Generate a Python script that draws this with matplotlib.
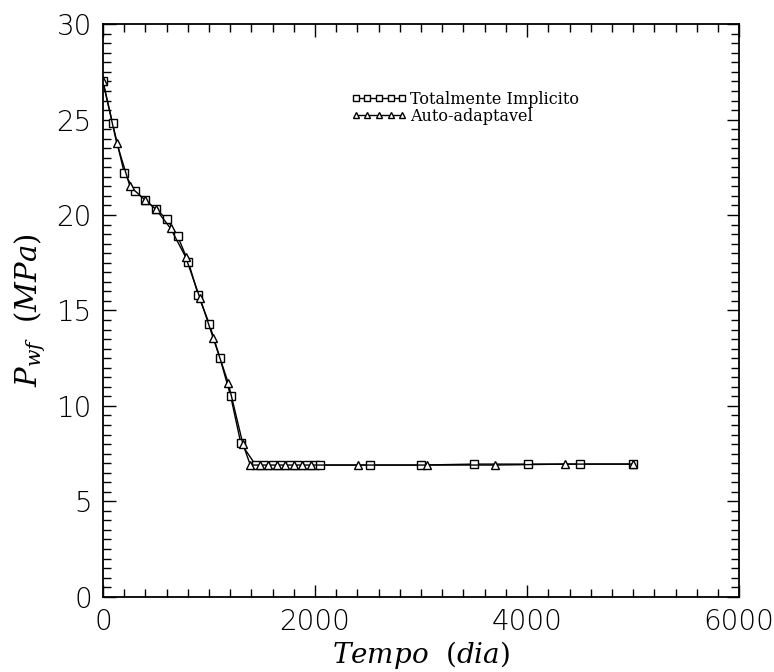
import numpy as np
import matplotlib
matplotlib.use("Agg")
import matplotlib.pyplot as plt
from matplotlib.ticker import MultipleLocator

# pressao no poco - metodo totalmente implicito (quadrados)
t_impl = [0, 91, 201, 302, 396, 500, 601, 704, 805, 899, 1003, 1104, 1205, 1300,
          1440, 1520, 1600, 1680, 1760, 1840, 1920, 2000, 2050,
          2519, 3000, 3500, 4012, 4500, 5000]
p_impl = [27.0, 24.8, 22.2, 21.25, 20.8, 20.3, 19.8, 18.9, 17.55, 15.8, 14.3, 12.5, 10.5, 8.05,
          6.9, 6.9, 6.9, 6.9, 6.9, 6.9, 6.9, 6.9, 6.9,
          6.9, 6.9, 6.95, 6.95, 6.95, 6.95]

# metodo auto-adaptavel (triangulos)
t_auto = [0, 129, 255, 396, 500, 638, 780, 915, 1040, 1182, 1320, 1390,
          1480, 1560, 1640, 1720, 1800, 1880, 1960,
          2409, 3054, 3698, 4358, 5000]
p_auto = [27.0, 23.8, 21.5, 20.8, 20.3, 19.3, 17.8, 15.65, 13.55, 11.2, 8.0, 6.9,
          6.9, 6.9, 6.9, 6.9, 6.9, 6.9, 6.9,
          6.9, 6.9, 6.9, 6.95, 6.95]

xticks = [0, 2000, 4000, 6000]
yticks = [0, 5, 10, 15, 20, 25, 30]

plt.rcParams['mathtext.fontset'] = 'dejavuserif'

fig = plt.figure(figsize=(7.74, 6.72), dpi=100)
ax = fig.add_axes([0.133, 0.112, 0.822, 0.852])

ax.plot(t_impl, p_impl, color='black', lw=1.0, marker='s', ms=6, mfc='white',
        mec='black', mew=1.0, label='Totalmente Implicito')
ax.plot(t_auto, p_auto, color='black', lw=1.0, marker='^', ms=6, mfc='white',
        mec='black', mew=1.0, label='Auto-adaptavel')

ax.set_xlim(0, 6000)
ax.set_ylim(0, 30)
ax.set_xticks(xticks)
ax.set_yticks(yticks)
ax.xaxis.set_minor_locator(MultipleLocator(200))
ax.yaxis.set_minor_locator(MultipleLocator(0.5))
ax.tick_params(which='both', direction='in', top=True, right=True, width=1.0)
ax.tick_params(which='major', length=9, labelsize=20, pad=8)
ax.tick_params(which='minor', length=6)
for lab in ax.get_xticklabels() + ax.get_yticklabels():
    lab.set_fontweight('light')
for s in ax.spines.values():
    s.set_linewidth(1.3)

ax.set_xlabel(r'$Tempo\ \ (dia)$', fontsize=20, labelpad=2)
ax.set_ylabel(r'$P_{wf}\ \ (MPa)$', fontsize=21, labelpad=6)

leg = ax.legend(loc='upper left', bbox_to_anchor=(0.38, 0.895), numpoints=5,
                frameon=False, handlelength=3.5, handletextpad=0.2,
                labelspacing=0.0, borderaxespad=0,
                prop={'family': 'DejaVu Serif', 'size': 11.5})
for h in leg.legend_handles:
    h.set_markersize(5)

fig.savefig('out.png', dpi=100)
